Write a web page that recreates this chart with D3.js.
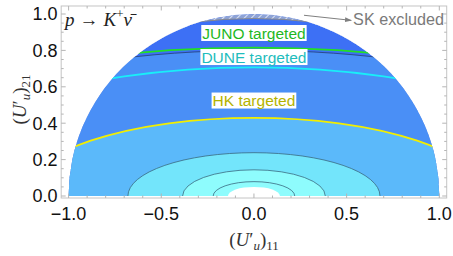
<!DOCTYPE html>
<html><head><meta charset="utf-8">
<script src="https://cdn.jsdelivr.net/npm/d3@7"></script>
<style>
html,body{margin:0;padding:0;background:#fff;}
svg{display:block;}
</style></head>
<body>
<svg id="chart" width="453" height="256"></svg>
<script>
// ---------- data ----------
const xTicks = [-1.0, -0.5, 0.0, 0.5, 1.0];
const xTickLabels = ["\u22121.0", "\u22120.5", "0.0", "0.5", "1.0"];
const yTicks = [0.0, 0.2, 0.4, 0.6, 0.8, 1.0];
const yTickLabels = ["0.0", "0.2", "0.4", "0.6", "0.8", "1.0"];

// filled contour bands: semi-axes of the boundary ellipses (outermost first)
const bandSemiX = [2.2, 1.246, 0.68, 0.385, 0.14];
const bandSemiY = [0.80, 0.43, 0.238, 0.144, 0.05];
// thin contour lines
const contourSemiX = [2.2, 0.68, 0.385, 0.22];
const contourSemiY = [0.80, 0.238, 0.144, 0.079];
// experiment reach curves
const experiments = ["JUNO targeted", "DUNE targeted", "HK targeted"];
const expSemiX = [2.4, 1.9, 1.246];
const expSemiY = [0.815, 0.707, 0.43];
const expLabelX = [0.0, 0.0, 0.0];
const expLabelY = [0.896, 0.764, 0.525];
// Super-Kamiokande excluded boundary
const skSemiX = [1.6];
const skSemiY = [0.975];

// ---------- styles ----------
const bandColors = ["#3d70f5", "#4a8ff6", "#5bb9fa", "#73e5fb", "#8efcfd", "#ffffff"];
const expLineColors = ["#22e022", "#19eef8", "#f2ee00"];
const expTextColors = ["#1fb81f", "#1fbdbd", "#b3b300"];

const svg = d3.select("#chart");
const x = d3.scaleLinear().domain([-1, 1]).range([68.6, 439.3]);
const y = d3.scaleLinear().domain([0, 1]).range([196, 14]);
const fx0 = x(-1.04), fx1 = x(1.04), fy0 = y(-0.011), fy1 = y(1.044);

const defs = svg.append("defs");
const semiPath = `M${x(-1)},${y(0)} A${x(1)-x(0)},${y(0)-y(1)} 0 0 1 ${x(1)},${y(0)} Z`;
defs.append("clipPath").attr("id", "semi").append("path").attr("d", semiPath);

const pat = defs.append("pattern").attr("id", "hatch").attr("patternUnits", "userSpaceOnUse")
  .attr("width", 5).attr("height", 5).attr("patternTransform", "rotate(45)");
pat.append("rect").attr("width", 5).attr("height", 5).attr("fill", "#8ea3d6");
pat.append("line").attr("x1", 0).attr("y1", 0).attr("x2", 0).attr("y2", 5)
  .attr("stroke", "#f4f6fb").attr("stroke-width", 1.6);

function ellipsePath(a, b) {
  const rx = x(a) - x(0), ry = y(0) - y(b);
  const cx = x(0), cy = y(0);
  return `M${cx-rx},${cy} A${rx},${ry} 0 0 1 ${cx+rx},${cy} Z`;
}
function ellipseArc(a, b) {
  const rx = x(a) - x(0), ry = y(0) - y(b);
  const cx = x(0), cy = y(0);
  return `M${cx-rx},${cy} A${rx},${ry} 0 0 1 ${cx+rx},${cy}`;
}

// ---------- frame ----------
const frame = svg.append("g");
frame.append("rect").attr("x", fx0).attr("y", fy1).attr("width", fx1 - fx0).attr("height", fy0 - fy1)
  .attr("fill", "none").attr("stroke", "#c4c4c4").attr("stroke-width", 1);

// ---------- bands ----------
const plot = svg.append("g").attr("clip-path", "url(#semi)");
plot.append("path").attr("d", semiPath).attr("fill", bandColors[0]);
bandSemiX.forEach((a, i) => {
  plot.append("path").attr("d", ellipsePath(a, bandSemiY[i])).attr("fill", bandColors[i + 1]);
});
// SK hatched region (inside circle, outside SK ellipse)
plot.append("path").attr("d", semiPath + " " + ellipsePath(skSemiX[0], skSemiY[0]))
  .attr("fill-rule", "evenodd").attr("fill", "url(#hatch)");
plot.append("path").attr("d", ellipseArc(skSemiX[0], skSemiY[0]))
  .attr("fill", "none").attr("stroke", "#8a8a8a").attr("stroke-width", 1);
// thin contours
contourSemiX.forEach((a, i) => {
  plot.append("path").attr("d", ellipseArc(a, contourSemiY[i])).attr("fill", "none")
    .attr("stroke", i === 0 ? "#243f73" : "#3a6a80").attr("stroke-width", 0.8);
});
// experiment curves
experiments.forEach((e, i) => {
  plot.append("path").attr("d", ellipseArc(expSemiX[i], expSemiY[i])).attr("fill", "none")
    .attr("stroke", expLineColors[i]).attr("stroke-width", 1.8);
});

// ---------- ticks ----------
const tk = svg.append("g").attr("stroke", "#b5b5b5").attr("stroke-width", 1);
const xMinor = d3.range(-10, 11).map(d => d / 10);
const yMinor = d3.range(0, 21).map(d => d / 20);
xMinor.forEach(v => {
  const major = Math.abs(v * 2 - Math.round(v * 2)) < 1e-9;
  const L = major ? 4.5 : 2.5;
  tk.append("line").attr("x1", x(v)).attr("x2", x(v)).attr("y1", fy0).attr("y2", fy0 - L);
  tk.append("line").attr("x1", x(v)).attr("x2", x(v)).attr("y1", fy1).attr("y2", fy1 + L);
});
yMinor.forEach(v => {
  const major = Math.abs(v * 5 - Math.round(v * 5)) < 1e-9;
  const L = major ? 4.5 : 2.5;
  tk.append("line").attr("y1", y(v)).attr("y2", y(v)).attr("x1", fx0).attr("x2", fx0 + L);
  tk.append("line").attr("y1", y(v)).attr("y2", y(v)).attr("x1", fx1).attr("x2", fx1 - L);
});

// tick labels
const lab = svg.append("g").attr("font-family", "Liberation Sans, Arial, sans-serif")
  .attr("font-size", 18).attr("fill", "#111");
xTicks.forEach((v, i) => {
  lab.append("text").attr("x", x(v)).attr("y", 219.5).attr("text-anchor", "middle").text(xTickLabels[i]);
});
yTicks.forEach((v, i) => {
  lab.append("text").attr("x", 57.5).attr("y", y(v)).attr("dy", "0.36em").attr("text-anchor", "end").text(yTickLabels[i]);
});

// ---------- experiment labels ----------
experiments.forEach((e, i) => {
  const t = svg.append("text").attr("x", x(expLabelX[i])).attr("y", y(expLabelY[i])).attr("dy", "0.36em")
    .attr("text-anchor", "middle").attr("font-family", "Liberation Sans, Arial, sans-serif")
    .attr("font-size", 15.5).attr("fill", expTextColors[i]).text(e);
  const bb = t.node().getBBox();
  svg.insert("rect", () => t.node()).attr("x", bb.x - 1).attr("y", bb.y + 0.5)
    .attr("width", bb.width + 2).attr("height", bb.height - 1).attr("fill", "#fff");
});

// ---------- SK annotation ----------
defs.append("marker").attr("id", "arr").attr("viewBox", "0 0 10 10").attr("refX", 9).attr("refY", 5)
  .attr("markerWidth", 7).attr("markerHeight", 7).attr("orient", "auto")
  .append("path").attr("d", "M0,1.5 L10,5 L0,8.5 Z").attr("fill", "#808080");
svg.append("line").attr("x1", x(0.27)).attr("y1", y(0.993)).attr("x2", x(0.525)).attr("y2", y(0.965))
  .attr("stroke", "#808080").attr("stroke-width", 1).attr("marker-end", "url(#arr)");
svg.append("text").attr("x", x(0.535)).attr("y", 24.5).attr("font-family", "Liberation Sans, Arial, sans-serif")
  .attr("font-size", 16.2).attr("fill", "#7a7a7a").text("SK excluded");

// ---------- inset process label ----------
const proc = svg.append("text").attr("x", 65).attr("y", 26).attr("font-family", "Liberation Serif, Times New Roman, serif")
  .attr("font-size", 19).attr("fill", "#222");
proc.append("tspan").attr("font-style", "italic").text("p");
proc.append("tspan").attr("dx", 5).text("\u2192");
proc.append("tspan").attr("dx", 5).attr("font-style", "italic").text("K");
proc.append("tspan").attr("dy", -8).attr("font-size", 13).text("+");
proc.append("tspan").attr("dy", 8).attr("font-style", "italic").text("\u03BD\u0304");

// ---------- axis titles ----------
function axTitle(g, sub) {
  g.append("tspan").text("(");
  g.append("tspan").attr("font-style", "italic").text("U");
  g.append("tspan").text("\u2032");
  g.append("tspan").attr("font-style", "italic").attr("font-size", 13).attr("dy", 4).text("u");
  g.append("tspan").attr("dy", -4).text(")");
  g.append("tspan").attr("font-size", 13).attr("dy", 4).text(sub);
}
const xt = svg.append("text").attr("x", x(0)).attr("y", 246).attr("text-anchor", "middle")
  .attr("font-family", "Liberation Serif, Times New Roman, serif").attr("font-size", 19).attr("fill", "#333");
axTitle(xt, "11");
const yt = svg.append("text").attr("transform", `translate(26,${y(0.53)}) rotate(-90)`).attr("text-anchor", "middle")
  .attr("font-family", "Liberation Serif, Times New Roman, serif").attr("font-size", 19).attr("fill", "#333");
axTitle(yt, "21");
</script>
</body></html>
